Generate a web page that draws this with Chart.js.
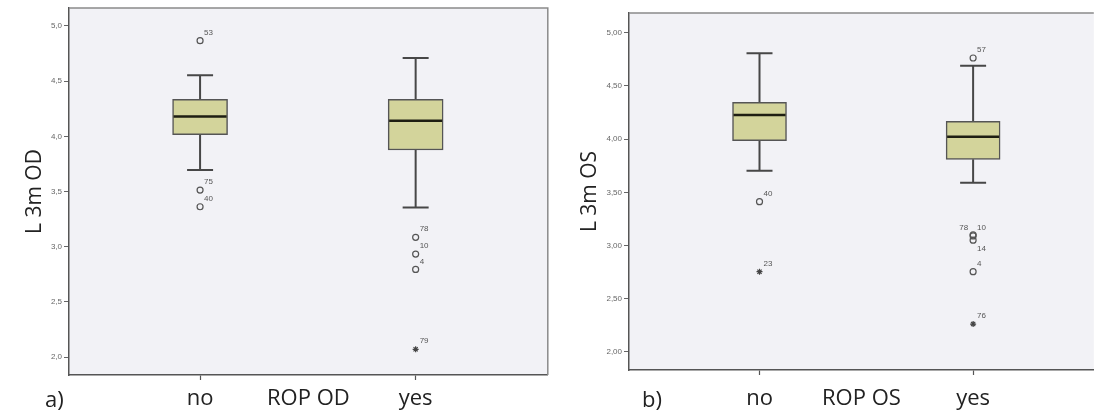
<!DOCTYPE html>
<html>
<head>
<meta charset="utf-8">
<script src="https://cdn.jsdelivr.net/npm/chart.js@4.4.1/dist/chart.umd.min.js"></script>
<style>
  html, body { margin: 0; padding: 0; background: #fff; width: 1099px; height: 416px; overflow: hidden; }
  .panel { position: absolute; top: 0; height: 416px; }
  #panelA { left: 0; width: 553px; }
  #panelB { left: 560px; width: 539px; }
  .tag { position: absolute; top: 383px; font-family: "Open Sans", sans-serif; font-size: 22px; line-height: 30px; color: #222; }
</style>
</head>
<body>
<div class="panel" id="panelA"><canvas id="chartA"></canvas></div>
<div class="panel" id="panelB"><canvas id="chartB"></canvas></div>
<div class="tag" style="left:45px">a)</div>
<div class="tag" style="left:642px">b)</div>
<script>
// ==================== Data ====================
const categories = ['no', 'yes'];
const yTickValues = [2.0, 2.5, 3.0, 3.5, 4.0, 4.5, 5.0];

// a) L 3m OD by ROP OD
const odWhiskerLow = [3.695, 3.356];
const odQ1 = [4.015, 3.876];
const odMedian = [4.18, 4.142];
const odQ3 = [4.335, 4.335];
const odWhiskerHigh = [4.553, 4.71];
const odOutlierGroup = ['no', 'no', 'no', 'yes', 'yes', 'yes'];
const odOutlierValue = [4.867, 3.513, 3.362, 3.085, 2.933, 2.794];
const odOutlierCase = ['53', '75', '40', '78', '10', '4'];
const odExtremeGroup = ['yes'];
const odExtremeValue = [2.07];
const odExtremeCase = ['79'];

// b) L 3m OS by ROP OS
const osWhiskerLow = [3.703, 3.59];
const osQ1 = [3.985, 3.81];
const osMedian = [4.226, 4.023];
const osQ3 = [4.346, 4.167];
const osWhiskerHigh = [4.806, 4.69];
const osOutlierGroup = ['no', 'yes', 'yes', 'yes', 'yes', 'yes'];
const osOutlierValue = [3.412, 4.762, 3.10, 3.09, 3.05, 2.754];
const osOutlierCase = ['40', '57', '78', '10', '14', '4'];
const osExtremeGroup = ['no', 'yes'];
const osExtremeValue = [2.754, 2.262];
const osExtremeCase = ['23', '76'];

// label placement tweaks (style only)
const labelOffsets = {
  'B:78': { dx: -5, dy: -7, align: 'right' },
  'B:14': { dx: 4, dy: 9, align: 'left' }
};

// ==================== Helpers ====================
const xPos = g => categories.indexOf(g) + 1;

const boxPlugin = {
  id: 'boxExtras',
  beforeDraw(chart) {
    const { ctx, chartArea: a } = chart;
    ctx.save();
    ctx.fillStyle = '#f2f2f6';
    ctx.fillRect(a.left, a.top, a.right - a.left, a.bottom - a.top);
    ctx.restore();
  },
  beforeDatasetsDraw(chart, args, opts) {
    const { ctx } = chart;
    const x = chart.scales.x, y = chart.scales.y;
    ctx.save();
    ctx.strokeStyle = '#474747';
    ctx.lineWidth = 2;
    categories.forEach((c, i) => {
      const cx = x.getPixelForValue(i + 1);
      const half = opts.capWidth / 2;
      ctx.beginPath();
      ctx.moveTo(cx, y.getPixelForValue(opts.high[i]));
      ctx.lineTo(cx, y.getPixelForValue(opts.q3[i]));
      ctx.moveTo(cx, y.getPixelForValue(opts.q1[i]));
      ctx.lineTo(cx, y.getPixelForValue(opts.low[i]));
      ctx.moveTo(cx - half, y.getPixelForValue(opts.high[i]));
      ctx.lineTo(cx + half, y.getPixelForValue(opts.high[i]));
      ctx.moveTo(cx - half, y.getPixelForValue(opts.low[i]));
      ctx.lineTo(cx + half, y.getPixelForValue(opts.low[i]));
      ctx.stroke();
    });
    ctx.restore();
  },
  afterDatasetsDraw(chart, args, opts) {
    const { ctx } = chart;
    const x = chart.scales.x, y = chart.scales.y;
    ctx.save();
    ctx.strokeStyle = '#1e1e12';
    ctx.lineWidth = 2.5;
    categories.forEach((c, i) => {
      const cx = x.getPixelForValue(i + 1);
      const my = y.getPixelForValue(opts.median[i]);
      ctx.beginPath();
      ctx.moveTo(cx - opts.boxWidth / 2 + 1, my);
      ctx.lineTo(cx + opts.boxWidth / 2 - 1, my);
      ctx.stroke();
    });
    // case labels
    ctx.font = '8px "Liberation Sans", Arial, sans-serif';
    ctx.fillStyle = '#555';
    ctx.textBaseline = 'middle';
    chart.data.datasets.forEach((ds, di) => {
      if (!ds.caseLabels) return;
      chart.getDatasetMeta(di).data.forEach((pt, j) => {
        const off = labelOffsets[opts.panel + ':' + ds.caseLabels[j]] || { dx: 4, dy: -8, align: 'left' };
        ctx.textAlign = off.align;
        ctx.fillText(ds.caseLabels[j], pt.x + off.dx, pt.y + off.dy);
      });
    });
    ctx.restore();
  },
  afterDraw(chart, args, opts) {
    const { ctx, chartArea: a } = chart;
    ctx.save();
    ctx.strokeStyle = '#8a8a8a';
    ctx.lineWidth = 1.5;
    ctx.beginPath();
    ctx.moveTo(a.left, a.top);
    ctx.lineTo(a.right, a.top);
    if (opts.rightBorder) ctx.lineTo(a.right, a.bottom);
    ctx.stroke();
    ctx.restore();
  }
};

function makeChart(id, p) {
  const ctx = document.getElementById(id).getContext('2d');
  return new Chart(ctx, {
    type: 'bar',
    data: {
      datasets: [
        {
          type: 'bar',
          data: categories.map((c, i) => ({ x: i + 1, y: [p.q1[i], p.q3[i]] })),
          backgroundColor: '#d3d49b',
          borderColor: '#555',
          borderWidth: 1.5,
          borderSkipped: false,
          barThickness: p.boxWidth
        },
        {
          type: 'line',
          showLine: false,
          data: p.outGroup.map((g, i) => ({ x: xPos(g), y: p.outValue[i] })),
          caseLabels: p.outCase,
          pointStyle: 'circle',
          pointRadius: 3,
          pointBorderWidth: 1.2,
          pointBorderColor: '#555',
          pointBackgroundColor: 'rgba(0,0,0,0)'
        },
        {
          type: 'line',
          showLine: false,
          data: p.extGroup.map((g, i) => ({ x: xPos(g), y: p.extValue[i] })),
          caseLabels: p.extCase,
          pointStyle: 'star',
          pointRadius: 3,
          pointBorderWidth: 1.2,
          pointBorderColor: '#444',
          pointBackgroundColor: '#444'
        }
      ]
    },
    options: {
      responsive: true,
      maintainAspectRatio: false,
      animation: false,
      devicePixelRatio: 1,
      layout: { padding: { top: p.top, right: p.padRight, bottom: 0, left: 0 } },
      plugins: {
        legend: { display: false },
        tooltip: { enabled: false },
        boxExtras: {
          panel: p.panel,
          q1: p.q1, q3: p.q3, median: p.median, low: p.low, high: p.high,
          boxWidth: p.boxWidth, capWidth: 26, rightBorder: p.rightBorder
        }
      },
      scales: {
        x: {
          type: 'linear',
          offset: false,
          min: p.xMin,
          max: p.xMax,
          afterBuildTicks: s => { s.ticks = categories.map((c, i) => ({ value: i + 1 })); },
          afterFit: s => { s.height = p.xHeight; s.paddingLeft = 0; s.paddingRight = 0; },
          ticks: {
            callback: v => categories[Math.round(v) - 1],
            font: { family: 'Open Sans', size: 22 },
            color: '#222',
            padding: p.xTickPad,
            maxRotation: 0,
            autoSkip: false
          },
          grid: { offset: false, drawOnChartArea: false, drawTicks: true, tickLength: 5, tickColor: '#555', tickWidth: 1.2 },
          border: { display: true, color: '#555', width: 1.5 },
          title: {
            display: true,
            text: p.xTitle,
            font: { family: 'Open Sans', size: 22 },
            color: '#222',
            padding: { top: 0, bottom: 4 }
          }
        },
        y: {
          min: p.yMin,
          max: p.yMax,
          afterBuildTicks: s => { s.ticks = yTickValues.map(v => ({ value: v })); },
          afterFit: s => { s.width = 69; s.paddingTop = 0; s.paddingBottom = 0; },
          ticks: {
            callback: v => v.toFixed(p.decimals).replace('.', ','),
            font: { family: 'Liberation Sans', size: 8 },
            color: '#666',
            padding: 2
          },
          grid: { drawOnChartArea: false, drawTicks: true, tickLength: 5, tickColor: '#666', tickWidth: 1 },
          border: { display: true, color: '#555', width: 1.5 },
          title: {
            display: true,
            text: p.yTitle,
            font: { family: 'Open Sans', size: 21 },
            color: '#222',
            padding: { top: p.yTitlePad, bottom: 0 }
          }
        }
      }
    },
    plugins: [boxPlugin]
  });
}

// ==================== Charts ====================
makeChart('chartA', {
  panel: 'A', yTitle: 'L 3m OD', xTitle: 'ROP OD', decimals: 1,
  q1: odQ1, q3: odQ3, median: odMedian, low: odWhiskerLow, high: odWhiskerHigh,
  outGroup: odOutlierGroup, outValue: odOutlierValue, outCase: odOutlierCase,
  extGroup: odExtremeGroup, extValue: odExtremeValue, extCase: odExtremeCase,
  top: 8, padRight: 2, xHeight: 41, xTickPad: 6, yTitlePad: 22,
  xMin: 0.392, xMax: 2.613, yMin: 1.837, yMax: 5.163,
  boxWidth: 55, rightBorder: true
});

makeChart('chartB', {
  panel: 'B', yTitle: 'L 3m OS', xTitle: 'ROP OS', decimals: 2,
  q1: osQ1, q3: osQ3, median: osMedian, low: osWhiskerLow, high: osWhiskerHigh,
  outGroup: osOutlierGroup, outValue: osOutlierValue, outCase: osOutlierCase,
  extGroup: osExtremeGroup, extValue: osExtremeValue, extCase: osExtremeCase,
  top: 13, padRight: 0, xHeight: 46, xTickPad: 11, yTitlePad: 17,
  xMin: 0.389, xMax: 2.565, yMin: 1.83, yMax: 5.185,
  boxWidth: 54, rightBorder: false
});
</script>
</body>
</html>
